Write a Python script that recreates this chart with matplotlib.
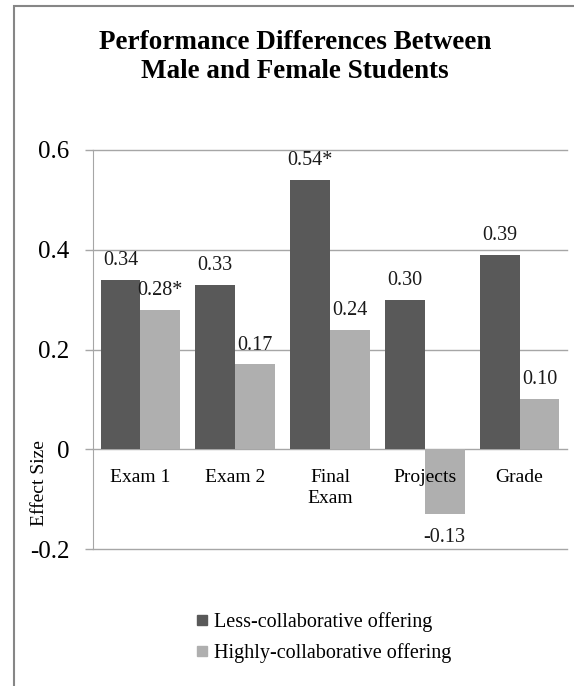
import matplotlib
matplotlib.use("Agg")
import matplotlib.pyplot as plt
import numpy as np
from matplotlib.patches import Rectangle
from matplotlib.lines import Line2D

categories = ["Exam 1", "Exam 2", "Final\nExam", "Projects", "Grade"]
less_collab = [0.34, 0.33, 0.54, 0.30, 0.39]
high_collab = [0.28, 0.17, 0.24, -0.13, 0.10]
less_labels = ["0.34", "0.33", "0.54*", "0.30", "0.39"]
high_labels = ["0.28*", "0.17", "0.24", "-0.13", "0.10"]
series_names = ["Less-collaborative offering", "Highly-collaborative offering"]
yticks = [-0.2, 0, 0.2, 0.4, 0.6]
ytick_labels = ["-0.2", "0", "0.2", "0.4", "0.6"]

DARK = "#595959"
LIGHT = "#afafaf"
GRID = "#a6a6a6"
FONT = "Liberation Serif"

plt.rcParams["font.family"] = FONT

W, H = 574, 686
fig = plt.figure(figsize=(W / 100, H / 100), dpi=100)

# outer chart frame
fig.patches.append(Rectangle((14 / W, -0.1), 1.2, 1 - 6 / H + 0.1,
                             transform=fig.transFigure, fill=False,
                             edgecolor="#868686", linewidth=1.5))

ax = fig.add_axes([93 / W, 1 - 549 / H, (567 - 93) / W, (549 - 150) / H])
ax.spines["bottom"].set_position(("data", 0))

x = np.arange(len(categories))
bw = 0.42
b1 = ax.bar(x - bw / 2, less_collab, bw, color=DARK, zorder=3)
b2 = ax.bar(x + bw / 2, high_collab, bw, color=LIGHT, zorder=3)

for bars, labels in ((b1, less_labels), (b2, high_labels)):
    for rect, lab in zip(bars, labels):
        v = rect.get_height()
        cx = rect.get_x() + rect.get_width() / 2
        off = 14 if v >= 0 else -17
        ax.annotate(lab, (cx, v), xytext=(0, off), textcoords="offset points",
                    ha="center", va="center", fontsize=14.5, color="#1a1a1a")

ax.set_xlim(-0.5, len(categories) - 0.5)
ax.set_ylim(-0.2, 0.6)
ax.set_yticks(yticks)
ax.set_yticklabels(ytick_labels, fontsize=18)
ax.yaxis.grid(True, color=GRID, linewidth=1)
ax.yaxis.set_zorder(0.5)
ax.tick_params(axis="y", direction="out", length=6, color=GRID, width=1, pad=11)
for gl in ax.get_ygridlines():
    gl.set_clip_on(False)

ax.set_xticks(x)
ax.set_xticklabels(categories, fontsize=14, linespacing=1.3)
ax.xaxis.set_zorder(4)
ax.tick_params(axis="x", length=0, pad=14)
for s in ("top", "right", "bottom"):
    ax.spines[s].set_visible(False)
ax.spines["left"].set_color(GRID)

fig.text(40 / W, 1 - 483 / H, "Effect Size", rotation=90, ha="center",
         va="center", fontsize=14)

fig.text(295 / W, 1 - 57 / H, "Performance Differences Between\nMale and Female Students",
         ha="center", va="center", fontsize=19.5, fontweight="bold",
         linespacing=1.25)

handles = [Line2D([], [], linestyle="none", marker="s", markersize=6.5,
                  markerfacecolor=c, markeredgecolor=c) for c in (DARK, LIGHT)]
fig.legend(handles, series_names, loc="center left",
           bbox_to_anchor=(196 / W, 1 - 638 / H), frameon=False,
           fontsize=14.5, handlelength=0.6, handletextpad=0.3,
           labelspacing=0.55, borderpad=0, borderaxespad=0)

fig.savefig("out.png", dpi=100, facecolor="white")
